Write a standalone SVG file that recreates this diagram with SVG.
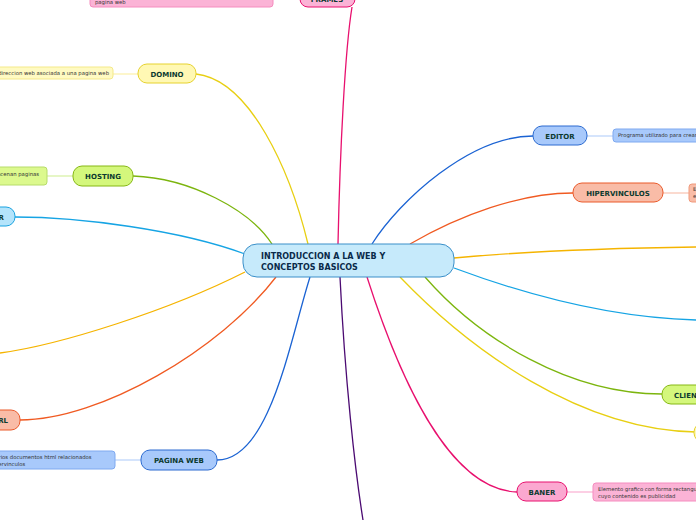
<svg xmlns="http://www.w3.org/2000/svg" width="696" height="520" viewBox="0 0 696 520">
<style>
text{font-family:"DejaVu Sans",Verdana,sans-serif}
.t{font-size:7px;font-weight:bold;fill:#0c3a2f;text-anchor:middle}
.d{font-size:5.3px;fill:#333}
.c{fill:none;stroke-width:1.3}
.s{fill:none;stroke-width:1.2}
</style>
<rect width="696" height="520" fill="#fff"/>
<g id="connectors">
<path class="c" stroke="#e8106e" d="M338,244 C340,150 345,50 352,7"/>
<path class="c" stroke="#e8cf12" d="M308,244 C290,170 250,80 196,74"/>
<path class="c" stroke="#7cb50e" d="M272,244 C250,210 190,178 133,176"/>
<path class="c" stroke="#16a4e4" d="M245,254 C180,230 80,217 15,217"/>
<path class="c" stroke="#f5b400" d="M245,272 C170,310 60,345 0,353"/>
<path class="c" stroke="#f05a22" d="M276,277 C220,350 100,420 20,420"/>
<path class="c" stroke="#1b63d3" d="M310,277 C290,340 270,460 217,460"/>
<path class="c" stroke="#1b63d3" d="M372,244 C400,200 470,136 533,136"/>
<path class="c" stroke="#f05a22" d="M410,244 C460,215 520,193 573,193"/>
<path class="c" stroke="#f5b400" d="M454,258 C540,250 620,248 696,247"/>
<path class="c" stroke="#16a4e4" d="M454,268 C540,300 620,318 696,320"/>
<path class="c" stroke="#7cb50e" d="M425,277 C480,340 570,394 662,394"/>
<path class="c" stroke="#e8cf12" d="M400,277 C470,350 580,430 696,432"/>
<path class="c" stroke="#e8106e" d="M367,277 C400,380 450,490 517,492"/>
<path class="c" stroke="#4b0a72" d="M340,277 C345,380 355,470 363,520"/>
<path class="s" stroke="#fbf0a8" d="M113,74 H138"/>
<path class="s" stroke="#d6f0a0" d="M47,176 H73"/>
<path class="s" stroke="#b9d3fb" d="M115,460 H141"/>
<path class="s" stroke="#b9d3fb" d="M587,136 H613"/>
<path class="s" stroke="#f8c2b0" d="M663,193 H689"/>
<path class="s" stroke="#fbb0d3" d="M567,492 H593"/>
</g>
<g id="center"><rect x="243" y="244" width="211" height="33" rx="14" fill="#c6eafb" stroke="#3a8fc9"/>
<text x="261" y="259" style="font-size:8px;font-weight:bold;fill:#0a2a4a">INTRODUCCION A LA WEB Y</text>
<text x="261" y="270" style="font-size:8px;font-weight:bold;fill:#0a2a4a">CONCEPTOS BASICOS</text></g>
<g id="frames"><rect x="300" y="-10" width="55" height="17" rx="8" fill="#fbb3d6" stroke="#e8106e"/><text class="t" x="327" y="2">FRAMES</text></g>
<g id="frames-d"><rect x="90" y="-10" width="183" height="17" rx="3" fill="#fbb3d6" stroke="#f58cbf"/><text class="d" x="95" y="4">pagina web</text></g>
<g id="domino"><rect x="138" y="64" width="58" height="19" rx="9" fill="#fff8b4" stroke="#e6d22e"/><text class="t" x="167" y="77">DOMINO</text></g>
<g id="domino-d"><rect x="-5" y="67" width="118" height="12" rx="3" fill="#fffac2" stroke="#f4e98a"/><text class="d" x="109" y="75" text-anchor="end">direccion web asociada a una pagina web</text></g>
<g id="hosting"><rect x="73" y="166" width="60" height="20" rx="9" fill="#d4f77c" stroke="#86b814"/><text class="t" x="103" y="179">HOSTING</text></g>
<g id="hosting-d"><rect x="-5" y="167" width="52" height="18" rx="3" fill="#dcf98e" stroke="#b7dc6a"/><text class="d" x="39" y="176" text-anchor="end">almacenan paginas</text></g>
<g id="navegador"><rect x="-30" y="207" width="45" height="19" rx="9" fill="#b4e4fb" stroke="#1aa3e0"/><text class="t" x="4" y="220" text-anchor="end" style="text-anchor:end">NAVEGADOR</text></g>
<g id="url"><rect x="-30" y="410" width="50" height="20" rx="9" fill="#f9bca7" stroke="#ea5a2b"/><text class="t" x="8" y="423" style="text-anchor:end">URL</text></g>
<g id="pagina"><rect x="141" y="450" width="76" height="20" rx="9" fill="#a8c9fb" stroke="#2c6bd0"/><text class="t" x="179" y="463">PAGINA WEB</text></g>
<g id="pagina-d"><rect x="-5" y="451" width="120" height="18" rx="3" fill="#a8c9fb" stroke="#7ea9f0"/><text class="d" x="-8" y="459">Varios documentos html relacionados</text><text class="d" x="-10" y="466">hipervinculos</text></g>
<g id="editor"><rect x="533" y="126" width="54" height="19" rx="9" fill="#a8c9fb" stroke="#2c6bd0"/><text class="t" x="560" y="139">EDITOR</text></g>
<g id="editor-d"><rect x="613" y="129" width="90" height="13" rx="3" fill="#a8c9fb" stroke="#7ea9f0"/><text class="d" x="618" y="137">Programa utilizado para crear paginas web</text></g>
<g id="hiper"><rect x="573" y="183" width="90" height="19" rx="9" fill="#f9bca7" stroke="#ea5a2b"/><text class="t" x="618" y="196">HIPERVINCULOS</text></g>
<g id="hiper-d"><rect x="689" y="184" width="15" height="18" rx="3" fill="#f9bca7" stroke="#f09a7c"/><text class="d" x="693" y="191">E</text><text class="d" x="693" y="198">e</text></g>
<g id="cliente"><rect x="662" y="385" width="45" height="19" rx="9" fill="#d4f77c" stroke="#86b814"/><text class="t" x="674" y="398" style="text-anchor:start">CLIENTE</text></g>
<g id="yellow-r"><rect x="694" y="423" width="20" height="19" rx="9" fill="#fff8b4" stroke="#e6d22e"/></g>
<g id="baner"><rect x="517" y="482" width="50" height="19" rx="9" fill="#fba8d0" stroke="#e8106e"/><text class="t" x="542" y="495">BANER</text></g>
<g id="baner-d"><rect x="593" y="483" width="110" height="18" rx="3" fill="#fbb3d6" stroke="#f58cbf"/><text class="d" x="598" y="491">Elemento grafico con forma rectangular</text><text class="d" x="598" y="498">cuyo contenido es publicidad</text></g>
</svg>
